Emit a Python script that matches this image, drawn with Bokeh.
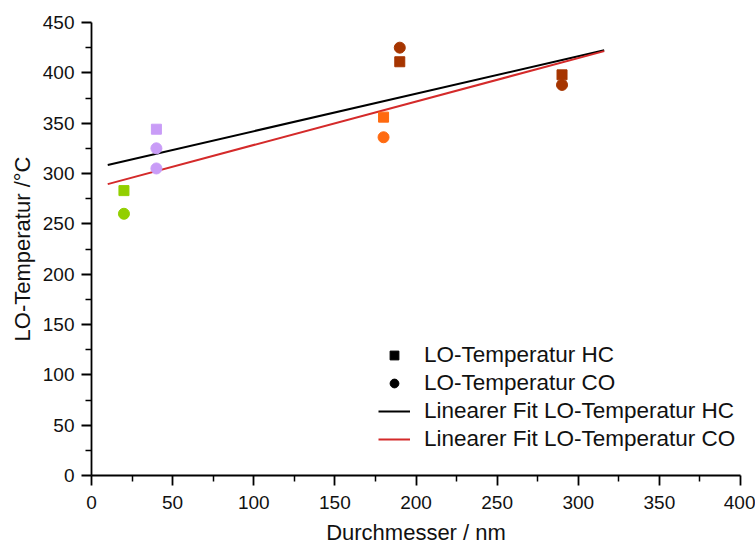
import numpy as np
from bokeh.plotting import figure
from bokeh.models import ColumnDataSource, Range1d, Legend, LegendItem, FixedTicker
from bokeh.embed import file_html
from bokeh.resources import INLINE

# Data
hc_x = [20, 40, 180, 190, 290]
hc_y = [283, 344, 356, 411, 398]
hc_colors = ["#92cf00", "#c99cf7", "#ff6a10", "#a63500", "#a63500"]

co_x = [20, 40, 40, 180, 190, 290]
co_y = [260, 325, 305, 336, 425, 388]
co_colors = ["#92cf00", "#c99cf7", "#c99cf7", "#ff6a10", "#a63500", "#a63500"]

fit_x = [10, 316]

x_ticks = [0, 50, 100, 150, 200, 250, 300, 350, 400]
y_ticks = [0, 50, 100, 150, 200, 250, 300, 350, 400, 450]

FONT = "Liberation Sans"

p = figure(width=755, height=548, output_backend="svg", toolbar_location=None,
           x_range=Range1d(0, 400), y_range=Range1d(0, 450),
           min_border_left=91, min_border_right=15, min_border_top=22, min_border_bottom=73)
p.outline_line_color = None
p.xgrid.visible = False
p.ygrid.visible = False

for ax in (p.xaxis[0], p.yaxis[0]):
    ax.axis_line_color = "black"
    ax.axis_line_width = 1.8
    ax.major_tick_line_color = "black"
    ax.minor_tick_line_color = "black"
    ax.major_tick_line_width = 1.8
    ax.minor_tick_line_width = 1.5
    ax.major_tick_out = 10
    ax.major_tick_in = 0
    ax.minor_tick_out = 6
    ax.minor_tick_in = 0
    ax.major_label_text_font = FONT
    ax.major_label_text_font_size = "19px"
    ax.major_label_text_color = "#111111"
    ax.axis_label_text_font = FONT
    ax.axis_label_text_font_size = "22px"
    ax.axis_label_text_font_style = "normal"
    ax.axis_label_text_color = "#111111"

p.xaxis[0].ticker = FixedTicker(ticks=x_ticks, minor_ticks=[v + 25 for v in x_ticks[:-1]])
p.yaxis[0].ticker = FixedTicker(ticks=y_ticks, minor_ticks=[v + 25 for v in y_ticks[:-1]])
p.xaxis[0].axis_label = "Durchmesser / nm"
p.yaxis[0].axis_label = "LO-Temperatur /°C"
p.xaxis[0].major_label_standoff = 10
p.yaxis[0].major_label_standoff = 7
p.xaxis[0].axis_label_standoff = 8
p.yaxis[0].axis_label_standoff = 5

# Fits computed from the data
hc_k, hc_d = np.polyfit(hc_x, hc_y, 1)
co_k, co_d = np.polyfit(co_x, co_y, 1)
hc_fit_y = [hc_k * x + hc_d for x in fit_x]
co_fit_y = [co_k * x + co_d for x in fit_x]

l_hc = p.line(fit_x, hc_fit_y, line_color="black", line_width=2)
l_co = p.line(fit_x, co_fit_y, line_color="#d42a2a", line_width=2)

src_hc = ColumnDataSource(dict(x=hc_x, y=hc_y, c=hc_colors))
src_co = ColumnDataSource(dict(x=co_x, y=co_y, c=co_colors))
p.scatter("x", "y", source=src_hc, marker="square", size=10, fill_color="c", line_color="c")
p.scatter("x", "y", source=src_co, marker="circle", size=11, fill_color="c", line_color="c")

# legend proxies
d_sq = p.scatter([-100], [-100], marker="square", size=9, fill_color="black", line_color="black")
d_ci = p.scatter([-100], [-100], marker="circle", size=10, fill_color="black", line_color="black")

legend = Legend(items=[
    LegendItem(label="LO-Temperatur HC", renderers=[d_sq]),
    LegendItem(label="LO-Temperatur CO", renderers=[d_ci]),
    LegendItem(label="Linearer Fit LO-Temperatur HC", renderers=[l_hc]),
    LegendItem(label="Linearer Fit LO-Temperatur CO", renderers=[l_co]),
], location=(287, 23))
legend.border_line_color = None
legend.background_fill_alpha = 0
legend.label_text_font = FONT
legend.label_text_font_size = "22.5px"
legend.label_text_color = "#111111"
legend.glyph_width = 32
legend.glyph_height = 22
legend.label_height = 22
legend.spacing = 2
legend.label_standoff = 14
legend.padding = 0
legend.margin = 0
p.add_layout(legend)

open("out.html", "w").write(file_html(p, INLINE))
